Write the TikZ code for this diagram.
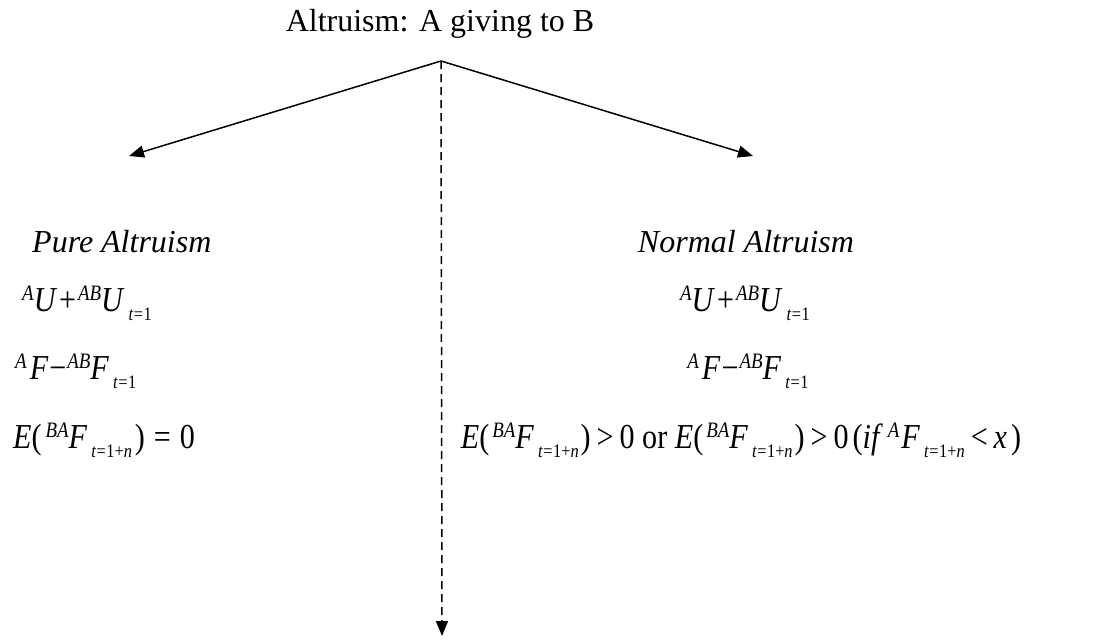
\documentclass[tikz,border=0pt]{standalone}
\usepackage{fontspec}
\setmainfont{Liberation Serif}
\newfontfamily\mf[FakeStretch=0.86]{Liberation Serif}
\usetikzlibrary{arrows.meta}
\newcommand\pre[1]{\raisebox{11pt}{\fontsize{22}{22}\selectfont\itshape #1}}
\newcommand\sbs[1]{\hspace{4pt}\raisebox{-9pt}{\fontsize{19}{19}\selectfont #1}}
\newcommand\sbn{\sbs{\textit{t}\kern0.5pt=\kern0.5pt1+\textit{n}}}
\newcommand\sbo{\sbs{\textit{t}\kern0.5pt=\kern0.5pt1}}
\begin{document}
\begin{tikzpicture}[x=1pt,y=-1pt,
  lbl/.style={inner sep=0pt,font=\fontsize{32}{32}\selectfont},
  eq/.style={inner sep=0pt,font=\mf\fontsize{35}{35}\selectfont},
  arr/.style={line width=1.5pt,-{Triangle[length=15pt,width=12pt]}},
  darr/.style={line width=1.5pt,dash pattern=on 8pt off 5pt,-{Triangle[length=15pt,width=12pt]}}]
\useasboundingbox (0,0) rectangle (1097,641);
\node[lbl,anchor=base] (title) at (440,31) {Altruism: A giving to B};
\coordinate (apex) at (441,61);
\coordinate (ltip) at (129,156);
\coordinate (rtip) at (753,156);
\coordinate (btip) at (442,636);
\draw[arr] (apex) -- (ltip);
\draw[arr] (apex) -- (rtip);
\draw[darr] (apex) -- (btip);
% left
\node[lbl,anchor=base west,font=\fontsize{32}{32}\selectfont\itshape] (pure) at (32,252) {Pure Altruism};
\node[eq,anchor=base west] (pu) at (22,311) {\pre{A}\textit{U}\kern2pt+\kern2pt\pre{AB}\textit{U}\sbo};
\node[eq,anchor=base west] (pf) at (15,379) {\pre{A}\kern3pt\textit{F}\kern1pt−\kern1pt\pre{AB}\textit{F}\sbo};
\node[eq,anchor=base west] (pe) at (13,448) {\textit{E}(\kern4pt\pre{BA}\textit{F}\sbn\kern3pt)\kern9pt=\kern9pt0};
% right
\node[lbl,anchor=base,font=\fontsize{32}{32}\selectfont\itshape] (normal) at (746,252) {Normal Altruism};
\node[eq,anchor=base] (nu) at (745,311) {\pre{A}\textit{U}\kern2pt+\kern2pt\pre{AB}\textit{U}\sbo};
\node[eq,anchor=base] (nf) at (748,379) {\pre{A}\kern3pt\textit{F}\kern1pt−\kern1pt\pre{AB}\textit{F}\sbo};
\node[eq,anchor=base] (ne) at (741,448) {\textit{E}(\kern3pt\pre{BA}\textit{F}\sbn\kern2pt)\kern6pt>\kern6pt0 or \textit{E}(\kern3pt\pre{BA}\textit{F}\sbn\kern2pt)\kern6pt>\kern6pt0\kern4pt(\textit{if}\kern5pt\pre{A}\kern2pt\textit{F}\sbn\kern6pt<\kern6pt\textit{x}\kern4pt)};
\end{tikzpicture}
\end{document}
